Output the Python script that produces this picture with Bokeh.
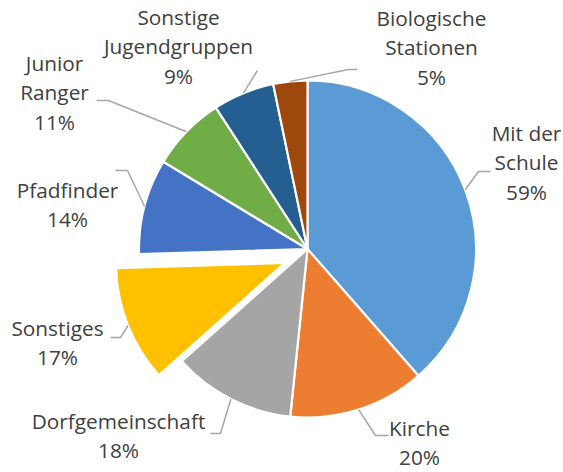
import math
from bokeh.plotting import figure
from bokeh.models import Range1d, ColumnDataSource
from bokeh.core.properties import value
from bokeh.embed import file_html
from bokeh.resources import INLINE

# ---- data ----
categories = ["Mit der Schule", "Kirche", "Dorfgemeinschaft", "Sonstiges",
              "Pfadfinder", "Junior Ranger", "Sonstige Jugendgruppen",
              "Biologische Stationen"]
percents = [59, 20, 18, 17, 14, 11, 9, 5]
label_lines = [["Mit der", "Schule"], ["Kirche"], ["Dorfgemeinschaft"], ["Sonstiges"],
               ["Pfadfinder"], ["Junior", "Ranger"], ["Sonstige", "Jugendgruppen"],
               ["Biologische", "Stationen"]]

# ---- style / layout ----
colors = ["#5B9BD5", "#ED7D31", "#A5A5A5", "#FFC000", "#4472C4", "#70AD47",
          "#255E91", "#9E480E"]
W, H = 563, 472
CX, CY, R = 307.0, -248.5, 168.5
explode = [(0, 0), (0, 0), (0, 0), (-23, -14), (0, 0), (0, 0), (0, 0), (0, 0)]
# label block: (center x, first text-line y in page px)
TEXT_DY = -10
label_pos = [(526, 142), (419, 437), (118, 430), (57, 337), (67, 199),
             (54, 72), (178, 26), (431, 27)]
LINE_H = 29.5
# leader line remaining points (page px) after the start on the slice edge
leader_pts = [[(478, 171), (490, 171)],
              [(375, 435), (388, 435)],
              [(220, 433), (210, 433)],
              [(120, 337), (110, 337)],
              [(127, 170), (115, 170)],
              [(108, 100), (96, 100)],
              [(257, 70)],
              [(348, 69), (357, 69)]]
FONT = "Open Sans"
FSIZE = "20.8px"
TCOL = "#404040"

p = figure(width=W, height=H, output_backend="svg", toolbar_location=None,
           x_range=Range1d(0, W), y_range=Range1d(-H, 0),
           min_border=0, outline_line_color=None)
p.axis.visible = False
p.grid.visible = False
p.background_fill_color = "white"

total = float(sum(percents))
xs, ys, sa, ea = [], [], [], []
cum = 0.0
mids = []
for i, v in enumerate(percents):
    t1 = cum / total * 2 * math.pi
    t2 = (cum + v) / total * 2 * math.pi
    cum += v
    mids.append((t1 + t2) / 2)
    xs.append(CX + explode[i][0])
    ys.append(CY + explode[i][1])
    sa.append(math.pi / 2 - t2)
    ea.append(math.pi / 2 - t1)

src = ColumnDataSource(dict(x=xs, y=ys, start=sa, end=ea, color=colors, name=categories))
p.wedge(x="x", y="y", radius=R, start_angle="start", end_angle="end",
        direction="anticlock", fill_color="color", line_color="white",
        line_width=2.2, source=src)

# leader lines
for i in range(len(categories)):
    m = mids[i]
    sx = xs[i] + R * math.sin(m)
    sy = ys[i] + R * math.cos(m)
    lx = [sx] + [pt[0] for pt in leader_pts[i]]
    ly = [sy] + [-pt[1] for pt in leader_pts[i]]
    p.line(lx, ly, line_color="#A6A6A6", line_width=1.5)

# labels
tx, ty, tt = [], [], []
for i in range(len(categories)):
    lines = label_lines[i] + ["%d%%" % percents[i]]
    x0, y0 = label_pos[i]
    for k, s in enumerate(lines):
        tx.append(x0)
        ty.append(-(y0 + TEXT_DY + k * LINE_H))
        tt.append(s)
p.text(tx, ty, text=tt, text_align="center", text_baseline="alphabetic",
       text_font=value(FONT), text_font_size=FSIZE, text_color=TCOL)

open("out.html", "w").write(file_html(p, INLINE))
